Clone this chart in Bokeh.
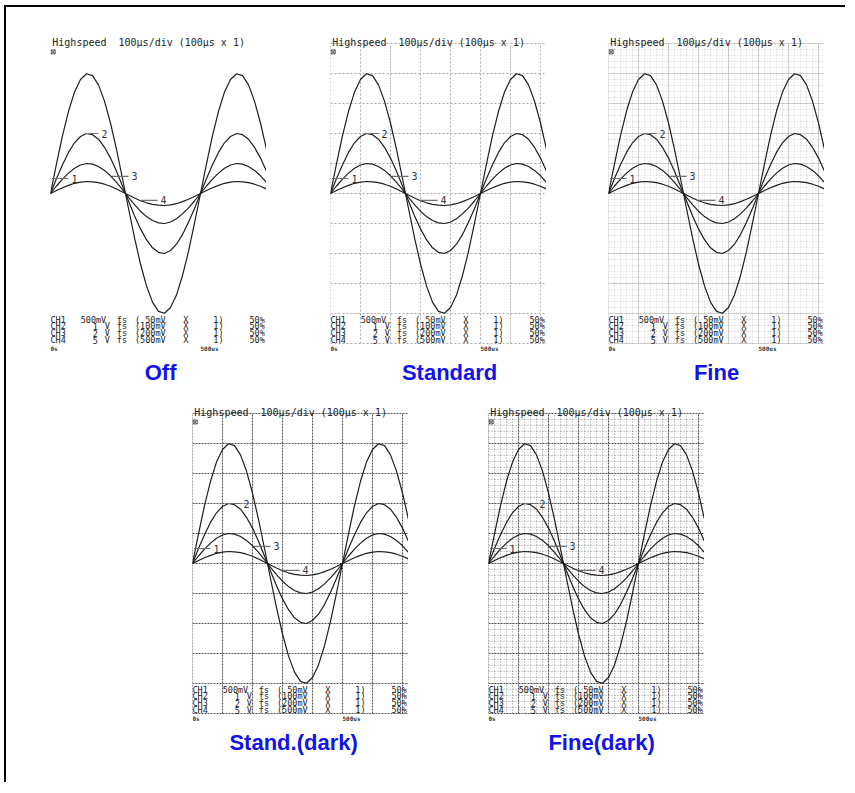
from bokeh.plotting import figure
from bokeh.layouts import column, row
from bokeh.models import Spacer
from bokeh.core.properties import value
from bokeh.embed import file_html
from bokeh.resources import INLINE
import re

# ---------------- data (read from the printouts) ----------------
time_us = list(range(0, 721, 20))          # sample times, microseconds
# trace deflections in divisions (100 us/div, 2 kHz sine, 50% position)
ch1 = [0, 0.99, 1.93, 2.74, 3.38, 3.80, 3.99, 3.93, 3.62, 3.08, 2.35, 1.47, 0.50,
       -0.50, -1.47, -2.35, -3.08, -3.62, -3.93, -3.99, -3.80, -3.38, -2.74, -1.93, -0.99,
       0, 0.99, 1.93, 2.74, 3.38, 3.80, 3.99, 3.93, 3.62, 3.08, 2.35, 1.47]
ch2 = [0, 0.50, 0.96, 1.37, 1.69, 1.90, 2.00, 1.96, 1.81, 1.54, 1.18, 0.74, 0.25,
       -0.25, -0.74, -1.18, -1.54, -1.81, -1.96, -2.00, -1.90, -1.69, -1.37, -0.96, -0.50,
       0, 0.50, 0.96, 1.37, 1.69, 1.90, 2.00, 1.96, 1.81, 1.54, 1.18, 0.74]
ch3 = [0, 0.25, 0.48, 0.68, 0.84, 0.95, 1.00, 0.98, 0.90, 0.77, 0.59, 0.37, 0.13,
       -0.13, -0.37, -0.59, -0.77, -0.90, -0.98, -1.00, -0.95, -0.84, -0.68, -0.48, -0.25,
       0, 0.25, 0.48, 0.68, 0.84, 0.95, 1.00, 0.98, 0.90, 0.77, 0.59, 0.37]
ch4 = [0, 0.10, 0.19, 0.27, 0.34, 0.38, 0.40, 0.39, 0.36, 0.31, 0.24, 0.15, 0.05,
       -0.05, -0.15, -0.24, -0.31, -0.36, -0.39, -0.40, -0.38, -0.34, -0.27, -0.19, -0.10,
       0, 0.10, 0.19, 0.27, 0.34, 0.38, 0.40, 0.39, 0.36, 0.31, 0.24, 0.15]
channel_names = ["1", "2", "3", "4"]

header_text = "Highspeed  100μs/div (100μs x 1)"
ch_rows = [
    "CH1  500mV fs ( 50mV  X    1)    50%",
    "CH2    1 V fs (100mV  X    1)    50%",
    "CH3    2 V fs (200mV  X    1)    50%",
    "CH4    5 V fs (500mV  X    1)    50%",
]
time_labels = ["0s", "500us"]
time_label_t = [0, 500]

grid_major_x = [0, 100, 200, 300, 400, 500, 600, 700]
grid_major_y = [-5, -4, -3, -2, -1, 0, 1, 2, 3, 4, 5]
grid_minor_x = [t for t in range(0, 721, 20) if t % 100]
grid_minor_y = [k / 5 for k in range(-25, 26) if k % 5]

panel_titles = ["Off", "Standard", "Fine", "Stand.(dark)", "Fine(dark)"]

# ---------------- layout / style constants ----------------
MONO = value("DejaVu Sans Mono")
SANS = value("Liberation Sans")
NBSP = "\u00a0"
COL_US = 20.1              # printer character pitch (~6 px) in time units
label_t0 = [5, 115, 205, 300]
label_t1 = [60, 160, 260, 357]
label_y = [0.5, 2.0, 0.57, -0.23]
title_t = [367, 397, 360, 337, 377]
row_y = [-4.2, -4.43, -4.66, -4.89]

grid_styles = {
    "Off": None,
    "Standard": dict(major=("#a8a8a8", "2 2", 1.0), minor=None),
    "Fine": dict(major=("#9a9a9a", "1 1", 1.0), minor=("#cccccc", "1 2", 1.0)),
    "Stand.(dark)": dict(major=("#555555", "2 1", 1.1), minor=None),
    "Fine(dark)": dict(major=("#505050", "2 1", 1.1), minor=("#959595", "1 2", 1.0)),
}

# split the settings rows into printed fields at their character columns
tok_x, tok_y, tok_text = [], [], []
for r, yy in zip(ch_rows, row_y):
    for m in re.finditer(r"\(\s*\S+|\S+", r):
        tok_x.append(m.start() * COL_US)
        tok_y.append(yy)
        tok_text.append(m.group().replace(" ", NBSP))


def make_panel(title, tt):
    p = figure(width=216, height=360, x_range=(0, 720), y_range=(-6.5, 5.5),
               output_backend="svg", toolbar_location=None, min_border=0,
               x_axis_type=None, y_axis_type=None, outline_line_color=None,
               background_fill_color="white", border_fill_color="white")
    st = grid_styles[title]
    if st is not None:
        if st["minor"] is not None:
            c, d, w = st["minor"]
            p.segment(x0=grid_minor_x, y0=-5, x1=grid_minor_x, y1=5,
                      line_color=c, line_dash=d, line_width=w)
            p.segment(x0=0, y0=grid_minor_y, x1=720, y1=grid_minor_y,
                      line_color=c, line_dash=d, line_width=w)
        c, d, w = st["major"]
        p.segment(x0=grid_major_x, y0=-5, x1=grid_major_x, y1=5,
                  line_color=c, line_dash=d, line_width=w)
        p.segment(x0=0, y0=grid_major_y, x1=720, y1=grid_major_y,
                  line_color=c, line_dash=d, line_width=w)

    for series in (ch1, ch2, ch3, ch4):
        p.line(time_us, series, line_color="#1e1e1e", line_width=1.2)

    # channel markers
    p.segment(x0=label_t0, y0=label_y, x1=label_t1, y1=label_y,
              line_color="#707070", line_width=1.2)
    p.text(x=[t + 10 for t in label_t1], y=label_y, text=channel_names,
           text_font=MONO, text_font_size="10px", text_color="#333333",
           text_baseline="alphabetic", text_align="left")

    # header
    p.text(x=[6], y=[5.02], text=[header_text.replace(" ", NBSP)], text_font=MONO,
           text_font_size="10px", text_color="#222222",
           text_baseline="alphabetic", text_align="left")
    p.scatter(x=[9], y=[4.72], marker="square_x", size=4,
              line_color="#333333", fill_color=None, line_width=0.8)

    # channel settings rows
    p.text(x=tok_x, y=tok_y, text=tok_text,
           text_font=MONO, text_font_size="8.5px", text_color="#222222",
           text_baseline="middle", text_align="left")
    p.text(x=time_label_t, y=[-5.17, -5.17], text=time_labels, text_font=MONO,
           text_font_size="6px", text_font_style="bold", text_color="#333333",
           text_baseline="middle", text_align="left")

    # panel caption
    p.text(x=[tt], y=[-5.97], text=[title], text_font=SANS,
           text_font_size="22px", text_font_style="bold", text_color="#1212F0",
           text_baseline="middle", text_align="center")
    return p


panels = [make_panel(t, tt) for t, tt in zip(panel_titles, title_t)]

row1 = row(Spacer(width=44, height=360), panels[0], Spacer(width=64, height=360),
           panels[1], Spacer(width=62, height=360), panels[2])
row2 = row(Spacer(width=186, height=360), panels[3], Spacer(width=80, height=360),
           panels[4])
layout = column(Spacer(width=10, height=21), row1, Spacer(width=10, height=10), row2,
                Spacer(width=10, height=26), width=841, height=777,
                styles={"margin-left": "4px", "margin-top": "5px",
                        "border-left": "2px solid #000000",
                        "border-top": "2px solid #000000",
                        "background": "white"})

open("out.html", "w").write(file_html(layout, INLINE))
